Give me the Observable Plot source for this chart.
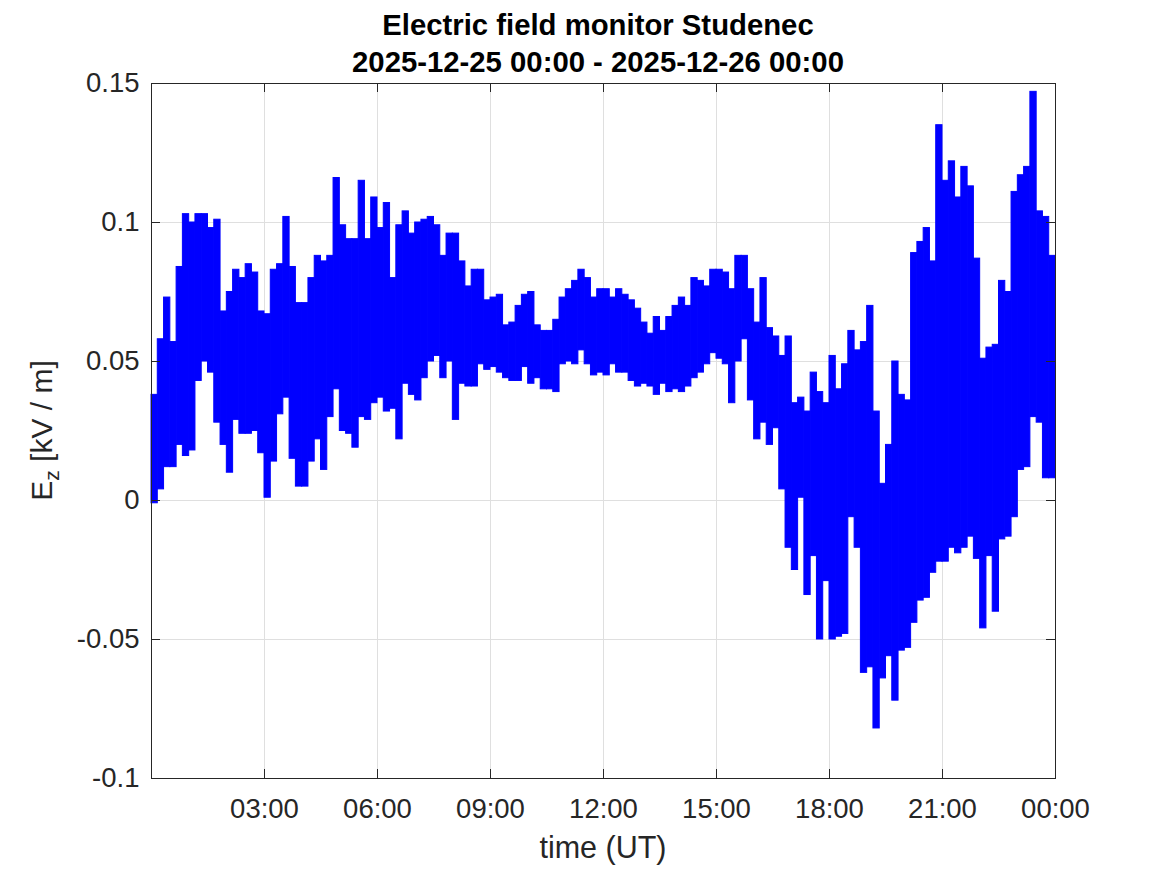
<!DOCTYPE html>
<html>
<head>
<meta charset="utf-8">
<script src="https://cdn.jsdelivr.net/npm/d3@7"></script>
<script src="https://cdn.jsdelivr.net/npm/@observablehq/plot@0.6"></script>
<style>
  html, body { margin: 0; padding: 0; background: #ffffff; }
  #chart { width: 1167px; height: 875px; }
</style>
</head>
<body>
<div id="chart"></div>
<script>
// Ez envelope per 10-minute bin (kV/m), 00:00 .. 23:50 UT, 2025-12-25
const binHigh = [
  0.038, 0.058, 0.073, 0.057, 0.084, 0.103, 0.100, 0.103, 0.103, 0.098, 0.101, 0.068,
  0.075, 0.083, 0.080, 0.085, 0.082, 0.068, 0.067, 0.083, 0.085, 0.102, 0.084, 0.071,
  0.071, 0.080, 0.088, 0.086, 0.088, 0.116, 0.099, 0.094, 0.094, 0.115, 0.094, 0.109,
  0.098, 0.107, 0.080, 0.099, 0.104, 0.096, 0.100, 0.101, 0.102, 0.099, 0.088, 0.096,
  0.096, 0.086, 0.077, 0.083, 0.083, 0.072, 0.073, 0.074, 0.063, 0.064, 0.070, 0.074,
  0.075, 0.063, 0.061, 0.061, 0.065, 0.073, 0.076, 0.079, 0.083, 0.080, 0.073, 0.076,
  0.076, 0.073, 0.076, 0.074, 0.072, 0.069, 0.064, 0.060, 0.066, 0.061, 0.066, 0.070,
  0.073, 0.070, 0.080, 0.079, 0.077, 0.083, 0.083, 0.082, 0.076, 0.088, 0.088, 0.076,
  0.064, 0.080, 0.062, 0.059, 0.052, 0.059, 0.035, 0.037, 0.032, 0.046, 0.039, 0.035,
  0.052, 0.040, 0.049, 0.061, 0.054, 0.057, 0.070, 0.032, 0.006, 0.020, 0.050, 0.038,
  0.036, 0.089, 0.093, 0.098, 0.086, 0.135, 0.115, 0.122, 0.109, 0.120, 0.113, 0.087,
  0.051, 0.055, 0.056, 0.079, 0.075, 0.111, 0.117, 0.120, 0.147, 0.104, 0.102, 0.088
];
const binLow = [
  -0.001, 0.004, 0.012, 0.012, 0.020, 0.016, 0.018, 0.043, 0.050, 0.046, 0.028, 0.020,
  0.010, 0.029, 0.024, 0.024, 0.025, 0.017, 0.001, 0.014, 0.031, 0.037, 0.015, 0.005,
  0.005, 0.014, 0.022, 0.011, 0.030, 0.040, 0.025, 0.024, 0.019, 0.030, 0.029, 0.035,
  0.037, 0.032, 0.033, 0.022, 0.042, 0.038, 0.036, 0.044, 0.050, 0.052, 0.044, 0.050,
  0.029, 0.042, 0.041, 0.041, 0.049, 0.047, 0.048, 0.046, 0.044, 0.043, 0.043, 0.048,
  0.042, 0.044, 0.040, 0.040, 0.039, 0.049, 0.050, 0.049, 0.054, 0.049, 0.045, 0.046,
  0.045, 0.049, 0.046, 0.046, 0.043, 0.041, 0.042, 0.041, 0.038, 0.042, 0.039, 0.040,
  0.039, 0.041, 0.044, 0.046, 0.049, 0.053, 0.051, 0.049, 0.035, 0.050, 0.058, 0.036,
  0.022, 0.028, 0.020, 0.026, 0.004, -0.017, -0.025, 0.001, -0.034, -0.020, -0.050, -0.029,
  -0.050, -0.049, -0.048, -0.006, -0.017, -0.062, -0.060, -0.082, -0.064, -0.056, -0.072, -0.054,
  -0.053, -0.044, -0.036, -0.035, -0.026, -0.022, -0.022, -0.017, -0.019, -0.017, -0.013, -0.021,
  -0.046, -0.020, -0.040, -0.014, -0.013, -0.006, 0.011, 0.012, 0.030, 0.028, 0.008, 0.008
];
const binMinutes = 10;
const xTicks = [3, 6, 9, 12, 15, 18, 21, 24];
const xTickLabels = ["03:00", "06:00", "09:00", "12:00", "15:00", "18:00", "21:00", "00:00"];
const yTicks = [-0.1, -0.05, 0, 0.05, 0.1, 0.15];
const yTickLabels = ["-0.1", "-0.05", "0", "0.05", "0.1", "0.15"];
const titleLines = ["Electric field monitor Studenec", "2025-12-25 00:00 - 2025-12-26 00:00"];
const xLabel = "time (UT)";

const bins = binHigh.map((h, i) => ({
  t0: i * binMinutes / 60,
  t1: (i + 1) * binMinutes / 60,
  hi: h,
  lo: binLow[i]
}));

const W = 1167, H = 875;
const mL = 151, mR = 112, mT = 83, mB = 97;
const pw = W - mL - mR, ph = H - mT - mB;
const ink = "#262626";
const gridCol = "#dfdfdf";
const blue = "#0000ff";
const font = "'Liberation Sans', Arial, Helvetica, sans-serif";

const chart = Plot.plot({
  width: W, height: H,
  marginLeft: mL, marginRight: mR, marginTop: mT, marginBottom: mB,
  style: {fontFamily: font, fontSize: "27.5px", color: ink, background: "#ffffff"},
  x: {domain: [0, 24]},
  y: {domain: [-0.1, 0.15]},
  marks: [
    Plot.gridX(xTicks, {stroke: gridCol, strokeOpacity: 1}),
    Plot.gridY(yTicks, {stroke: gridCol, strokeOpacity: 1}),
    Plot.rect(bins, {x1: "t0", x2: "t1", y1: "lo", y2: "hi", fill: blue, stroke: blue, strokeWidth: 1}),
    Plot.frame({stroke: ink}),
    Plot.tickY(yTicks, {y: d => d, stroke: ink, insetRight: pw - 9}),
    Plot.tickY(yTicks, {y: d => d, stroke: ink, insetLeft: pw - 9}),
    Plot.tickX(xTicks, {x: d => d, stroke: ink, insetTop: ph - 9}),
    Plot.tickX(xTicks, {x: d => d, stroke: ink, insetBottom: ph - 9}),
    Plot.axisX(xTicks, {tickSize: 0, tickPadding: 20, label: null, fill: ink,
      tickFormat: d => xTickLabels[xTicks.indexOf(d)]}),
    Plot.axisY(yTicks, {tickSize: 0, tickPadding: 12, label: null, fill: ink,
      tickFormat: d => yTickLabels[yTicks.indexOf(d)]})
  ]
});

document.getElementById("chart").appendChild(chart);

const svg = d3.select(chart);
const cx = mL + pw / 2;
svg.append("text")
  .attr("x", cx - 5).attr("y", 35)
  .attr("text-anchor", "middle")
  .attr("font-family", font).attr("font-size", 29.3).attr("font-weight", "bold")
  .attr("fill", "#000000")
  .text(titleLines[0]);
svg.append("text")
  .attr("x", cx - 5).attr("y", 72)
  .attr("text-anchor", "middle")
  .attr("font-family", font).attr("font-size", 29.3).attr("font-weight", "bold")
  .attr("fill", "#000000")
  .text(titleLines[1]);

svg.append("text")
  .attr("x", cx).attr("y", 858)
  .attr("text-anchor", "middle")
  .attr("font-family", font).attr("font-size", 30.5)
  .attr("fill", ink)
  .text(xLabel);

const yl = svg.append("text")
  .attr("transform", `translate(52,${mT + ph / 2}) rotate(-90)`)
  .attr("text-anchor", "middle")
  .attr("font-family", font).attr("font-size", 30)
  .attr("fill", ink);
yl.append("tspan").text("E");
yl.append("tspan").attr("dy", 7).attr("font-size", 21).text("z");
yl.append("tspan").attr("dy", -7).text(" [kV / m]");
</script>
</body>
</html>
